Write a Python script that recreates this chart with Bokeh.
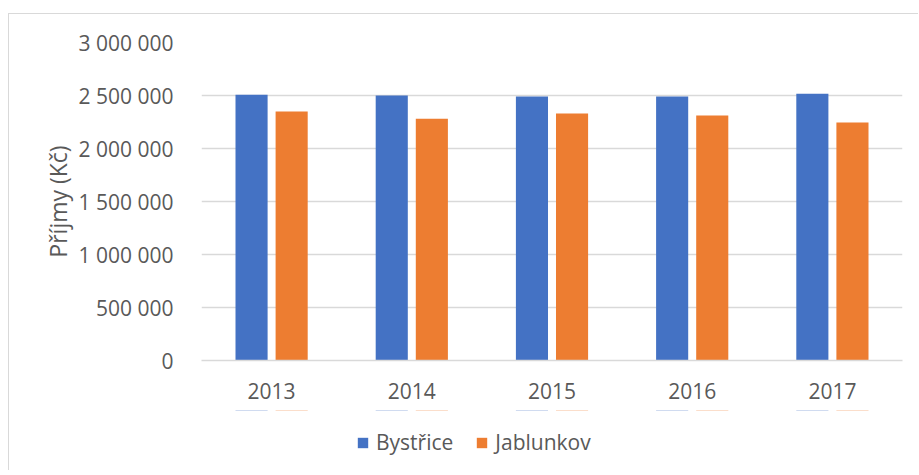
from bokeh.plotting import figure
from bokeh.layouts import column
from bokeh.models import FactorRange, Range1d, FixedTicker, Legend, LegendItem, ColumnDataSource
from bokeh.transform import dodge
from bokeh.embed import file_html
from bokeh.resources import INLINE

years = ["2013", "2014", "2015", "2016", "2017"]
bystrice = [2506000, 2500000, 2491000, 2491000, 2516000]
jablunkov = [2349000, 2280000, 2330000, 2311000, 2245000]
series_names = ["Bystřice", "Jablunkov"]
series_colors = ["#4472C4", "#ED7D31"]
y_ticks = [0, 500000, 1000000, 1500000, 2000000, 2500000, 3000000]
y_tick_labels = ["0", "500 000", "1 000 000", "1 500 000", "2 000 000", "2 500 000", "3 000 000"]
y_title = "Příjmy (Kč)"

FONT = "Open Sans"
TXT = "#595959"
GRID = "#d9d9d9"

source = ColumnDataSource(data=dict(years=years, b=bystrice, j=jablunkov))
xr = FactorRange(factors=years, range_padding=0)

p = figure(x_range=xr, y_range=Range1d(0, 3000000),
           width=909, height=396,
           output_backend="svg", toolbar_location=None,
           min_border_left=192, min_border_right=16, min_border_top=28, min_border_bottom=50)
p.outline_line_color = None

r1 = p.vbar(x=dodge("years", -0.143, range=xr), top="b", width=0.229, source=source,
            fill_color=series_colors[0], line_color=None)
r2 = p.vbar(x=dodge("years", 0.143, range=xr), top="j", width=0.229, source=source,
            fill_color=series_colors[1], line_color=None)

p.xgrid.grid_line_color = None
p.ygrid.grid_line_color = GRID
p.ygrid.grid_line_width = 1.5
p.ygrid.ticker = FixedTicker(ticks=y_ticks)

ya = p.yaxis[0]
ya.ticker = FixedTicker(ticks=y_ticks)
ya.major_label_overrides = {t: l for t, l in zip(y_ticks, y_tick_labels)}
ya.axis_line_color = None
ya.major_tick_line_color = None
ya.minor_tick_line_color = None
ya.major_label_standoff = 22
ya.major_label_text_font = FONT
ya.major_label_text_font_size = "21px"
ya.major_label_text_color = TXT
ya.axis_label = y_title
ya.axis_label_text_font = FONT
ya.axis_label_text_font_size = "23px"
ya.axis_label_text_font_style = "normal"
ya.axis_label_text_color = TXT
ya.axis_label_standoff = 2

xa = p.xaxis[0]
xa.axis_line_color = GRID
xa.axis_line_width = 1.5
xa.major_tick_line_color = None
xa.minor_tick_line_color = None
xa.major_label_standoff = 16
xa.major_label_text_font = FONT
xa.major_label_text_font_size = "21px"
xa.major_label_text_color = TXT

# legend strip below the chart (its bars lie well outside its visible y range)
q = figure(width=909, height=60, x_range=xr, y_range=Range1d(-6000000, -3000000),
           x_axis_location=None, y_axis_location=None,
           output_backend="svg", toolbar_location=None,
           min_border_left=192, min_border_right=16, min_border_top=0, min_border_bottom=0)
q.outline_line_color = None
q.grid.grid_line_color = None
l1 = q.vbar(x=dodge("years", -0.143, range=xr), top="b", width=0.229, source=source,
            fill_color=series_colors[0], line_color=None)
l2 = q.vbar(x=dodge("years", 0.143, range=xr), top="j", width=0.229, source=source,
            fill_color=series_colors[1], line_color=None)

legend = Legend(items=[LegendItem(label=series_names[0], renderers=[l1]),
                       LegendItem(label=series_names[1], renderers=[l2])],
                orientation="horizontal", location=(155, 14),
                glyph_width=13, glyph_height=13, label_standoff=7, spacing=22,
                margin=0, padding=5, border_line_color=None, background_fill_alpha=0,
                label_text_font=FONT, label_text_font_size="21px", label_text_color=TXT)
q.add_layout(legend, "center")

layout = column(p, q, spacing=0)
layout.styles = {"margin-left": "8px", "margin-top": "13px",
                 "border-left": "1px solid #d9d9d9", "border-top": "1px solid #d9d9d9"}

open("out.html", "w").write(file_html(layout, INLINE))
